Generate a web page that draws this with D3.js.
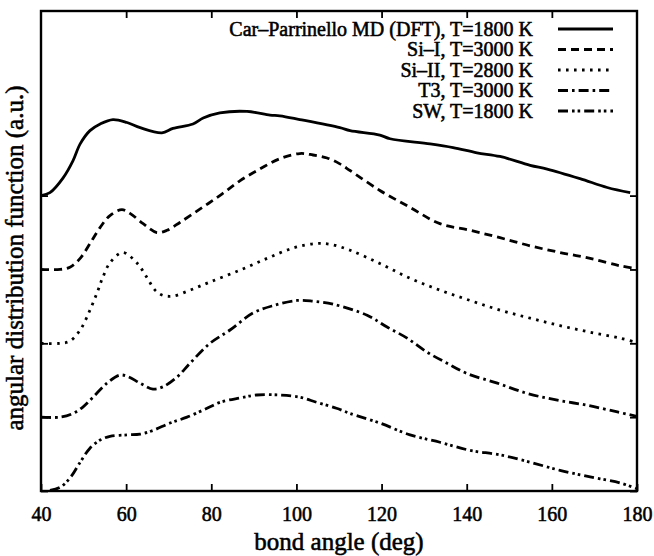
<!DOCTYPE html>
<html>
<head>
<meta charset="utf-8">
<script src="https://cdn.jsdelivr.net/npm/d3@7"></script>
<style>
  html, body { margin: 0; padding: 0; background: #fff; }
  svg { display: block; }
  text { font-family: "Liberation Serif", "Times New Roman", serif; fill: #000; stroke: #000; stroke-width: 0.55px; }
</style>
</head>
<body>
<svg id="chart" width="654" height="556"></svg>
<script>
// Bond angle grid (degrees) and angular distribution values per model.
// Each curve is shifted vertically by a whole unit so they stack.
const cpAngles = [40, 42.1, 45.2, 47.5, 49.2, 51.5, 53.9, 56.9, 60.2, 63.3, 68.4, 71.0, 75.7, 78.1, 82.0, 88.4, 93.8, 96.1, 100.8, 110.2, 112.6, 119.6, 122.0, 131.4, 136.8, 142.4, 147.8, 154.9, 158.9, 166.6, 173.0, 178.4];
const cpValues = [4.00, 4.04, 4.24, 4.47, 4.70, 4.88, 4.97, 5.03, 4.99, 4.92, 4.85, 4.91, 4.97, 5.05, 5.12, 5.14, 5.09, 5.08, 5.03, 4.92, 4.88, 4.82, 4.77, 4.70, 4.65, 4.58, 4.53, 4.41, 4.36, 4.23, 4.11, 4.04];

const si1Angles = [40, 44.5, 46.8, 49.2, 51.5, 53.9, 56.2, 59.0, 60.9, 64.0, 67.2, 69.6, 72.7, 77.4, 82.0, 86.7, 91.4, 96.1, 100.8, 103.9, 107.2, 110.2, 112.6, 119.6, 126.7, 133.7, 140.8, 147.8, 154.9, 161.9, 169.0, 176.0, 180];
const si1Values = [3.00, 3.00, 3.03, 3.15, 3.35, 3.57, 3.73, 3.81, 3.76, 3.62, 3.50, 3.53, 3.64, 3.82, 4.00, 4.20, 4.36, 4.50, 4.57, 4.55, 4.51, 4.43, 4.34, 4.07, 3.84, 3.62, 3.53, 3.43, 3.32, 3.23, 3.15, 3.05, 3.01];

const si2Angles = [40, 44.5, 46.8, 49.2, 51.5, 53.4, 54.5, 56.2, 59.2, 62.5, 64.9, 66.8, 68.6, 71.0, 75.0, 79.7, 86.7, 93.1, 99.2, 104.5, 108.0, 112.6, 119.6, 126.7, 133.7, 140.8, 147.8, 154.9, 161.9, 169.0, 176.0, 180];
const si2Values = [2.00, 2.00, 2.03, 2.18, 2.45, 2.72, 2.89, 3.09, 3.23, 3.09, 2.89, 2.72, 2.65, 2.64, 2.72, 2.83, 2.99, 3.15, 3.29, 3.35, 3.34, 3.26, 3.08, 2.88, 2.72, 2.58, 2.45, 2.34, 2.24, 2.15, 2.07, 2.01];

const t3Angles = [40, 44.5, 47.5, 49.9, 52.2, 55.5, 58.5, 60.4, 63.3, 66.3, 68.6, 71.9, 75.0, 79.7, 84.4, 89.8, 94.5, 100.1, 103.9, 108.6, 116.6, 121.3, 126.0, 130.7, 135.4, 140.1, 147.2, 154.3, 161.3, 168.4, 175.4, 180];
const t3Values = [1.00, 1.00, 1.05, 1.14, 1.27, 1.46, 1.57, 1.55, 1.46, 1.38, 1.41, 1.54, 1.73, 2.00, 2.18, 2.41, 2.51, 2.58, 2.57, 2.53, 2.38, 2.22, 2.07, 1.88, 1.73, 1.59, 1.46, 1.32, 1.23, 1.16, 1.07, 1.01];

const swAngles = [42.1, 44.5, 47.0, 49.2, 51.5, 53.9, 56.2, 60.2, 63.3, 66.3, 70.3, 74.3, 79.0, 82.0, 86.7, 90.7, 96.1, 100.8, 104.8, 109.4, 112.6, 119.6, 126.7, 133.7, 140.8, 147.8, 154.9, 161.9, 169.0, 176.0, 180];
const swValues = [0.01, 0.05, 0.19, 0.39, 0.58, 0.69, 0.74, 0.76, 0.77, 0.82, 0.92, 1.00, 1.12, 1.20, 1.26, 1.30, 1.30, 1.27, 1.20, 1.12, 1.05, 0.92, 0.76, 0.66, 0.55, 0.49, 0.39, 0.28, 0.19, 0.11, 0.03];

const seriesNames = ["Car\u2013Parrinello MD (DFT), T=1800 K", "Si\u2013I, T=3000 K", "Si\u2013II, T=2800 K", "T3, T=3000 K", "SW, T=1800 K"];

const xTicks = [40, 60, 80, 100, 120, 140, 160, 180];
const yTicks = [0, 1, 2, 3, 4];

const xLabel = "bond angle (deg)";
const yLabel = "angular distribution function (a.u.)";

// ---- drawing ----
const svg = d3.select("#chart");
const plotL = 41, plotR = 637, plotT = 11, plotB = 491;

const x = d3.scaleLinear().domain([40, 180]).range([plotL, plotR]);
const y = d3.scaleLinear().domain([0, 6.5]).range([plotB, plotT]);

const dashes = [null, "8,5", "2.6,5.4", "10,4,2.6,4", "10,4,2.6,3,2.6,4"];
const lw = 2.8;

const series = [
  [cpAngles, cpValues],
  [si1Angles, si1Values],
  [si2Angles, si2Values],
  [t3Angles, t3Values],
  [swAngles, swValues]
].map(([a, v], i) => ({ name: seriesNames[i], dash: dashes[i], pts: a.map((d, j) => [d, v[j]]) }));

svg.append("clipPath").attr("id", "plotclip")
  .append("rect").attr("x", plotL).attr("y", plotT).attr("width", plotR - plotL).attr("height", plotB - plotT);

const line = d3.line().x(d => x(d[0])).y(d => y(d[1])).curve(d3.curveCatmullRom.alpha(0.5));

const g = svg.append("g").attr("clip-path", "url(#plotclip)");
series.forEach(s => {
  g.append("path")
    .attr("d", line(s.pts))
    .attr("fill", "none")
    .attr("stroke", "#000")
    .attr("stroke-width", lw)
    .attr("stroke-dasharray", s.dash)
    .attr("stroke-linejoin", "round");
});

// axes: ticks on all four sides, labels on the bottom only
const tickLen = 7;
const axisStyle = sel => {
  sel.select(".domain").remove();
  sel.selectAll(".tick line").attr("stroke", "#000").attr("stroke-width", 1.8);
};
svg.append("g").attr("transform", `translate(0,${plotB})`)
  .call(d3.axisBottom(x).tickValues(xTicks).tickSize(-tickLen).tickPadding(tickLen + 9).tickFormat(d3.format("d")))
  .call(axisStyle)
  .call(s => s.selectAll("text").attr("font-size", 20).attr("font-family", "Liberation Serif, serif"));
svg.append("g").attr("transform", `translate(0,${plotT})`)
  .call(d3.axisTop(x).tickValues(xTicks.slice(1, -1)).tickSize(-tickLen).tickFormat(""))
  .call(axisStyle);
svg.append("g").attr("transform", `translate(${plotL},0)`)
  .call(d3.axisLeft(y).tickValues(yTicks).tickSize(-tickLen).tickFormat(""))
  .call(axisStyle);
svg.append("g").attr("transform", `translate(${plotR},0)`)
  .call(d3.axisRight(y).tickValues(yTicks).tickSize(-tickLen).tickFormat(""))
  .call(axisStyle);

svg.append("rect")
  .attr("x", plotL).attr("y", plotT).attr("width", plotR - plotL).attr("height", plotB - plotT)
  .attr("fill", "none").attr("stroke", "#000").attr("stroke-width", 2.4);

// axis titles
svg.append("text")
  .attr("x", (plotL + plotR) / 2).attr("y", 550)
  .attr("text-anchor", "middle").attr("font-size", 25)
  .text(xLabel);
svg.append("text")
  .attr("transform", `translate(23,${(plotT + plotB) / 2 + 7}) rotate(-90)`)
  .attr("text-anchor", "middle").attr("font-size", 25)
  .text(yLabel);

// legend
const legY0 = 29, legStep = 20.5;
const leg = svg.append("g");
series.forEach((s, i) => {
  const cy = legY0 + i * legStep;
  leg.append("text")
    .attr("x", 533).attr("y", cy + 6.5)
    .attr("text-anchor", "end").attr("font-size", 20)
    .text(s.name);
  leg.append("line")
    .attr("x1", 558).attr("x2", 613).attr("y1", cy).attr("y2", cy)
    .attr("stroke", "#000").attr("stroke-width", lw)
    .attr("stroke-dasharray", s.dash);
});
</script>
</body>
</html>
